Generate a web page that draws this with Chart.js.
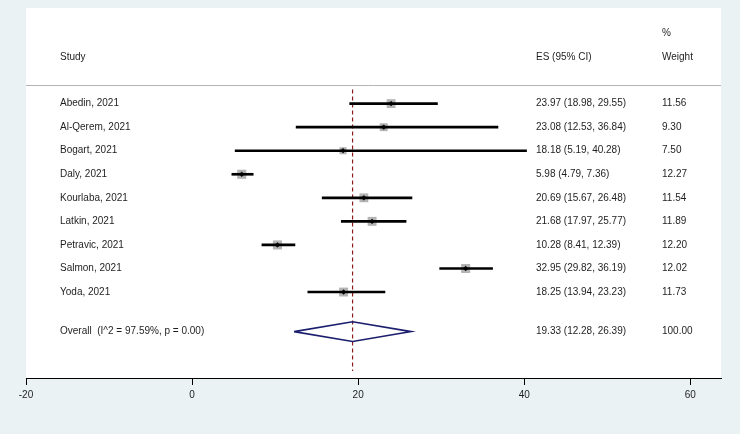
<!DOCTYPE html>
<html>
<head>
<meta charset="utf-8">
<script src="https://cdn.jsdelivr.net/npm/chart.js@4"></script>
<style>
  html, body { margin: 0; padding: 0; background: #eaf2f3; }
  #wrap { width: 740px; height: 434px; }
</style>
</head>
<body>
<div id="wrap"><canvas id="forest" width="740" height="434"></canvas></div>
<script>
// studies and their estimates (ES with 95% CI) and % weight
const studies = ['Abedin, 2021', 'Al-Qerem, 2021', 'Bogart, 2021', 'Daly, 2021', 'Kourlaba, 2021',
                 'Latkin, 2021', 'Petravic, 2021', 'Salmon, 2021', 'Yoda, 2021'];
const es      = [23.97, 23.08, 18.18, 5.98, 20.69, 21.68, 10.28, 32.95, 18.25];
const ciLow   = [18.98, 12.53, 5.19, 4.79, 15.67, 17.97, 8.41, 29.82, 13.94];
const ciHigh  = [29.55, 36.84, 40.28, 7.36, 26.48, 25.77, 12.39, 36.19, 23.23];
const weights = [11.56, 9.30, 7.50, 12.27, 11.54, 11.89, 12.20, 12.02, 11.73];

// pooled estimate
const overallES = 19.33;
const overallLow = 12.28;
const overallHigh = 26.39;
const overallWeight = 100.00;
const i2 = 97.59;
const pValue = 0.00;

const xTicks = [-20, 0, 20, 40, 60];

// row positions on the y scale (row index, overall sits a bit lower)
const rows = studies.map((s, i) => i);
const overallRow = 9.68;

const ctx = document.getElementById('forest').getContext('2d');
const font = '"Liberation Sans", Arial, sans-serif';

// diamond for the pooled result
const dh = 0.42;
const diamond = [
    { x: overallLow, y: overallRow },
    { x: overallES, y: overallRow - dh },
    { x: overallHigh, y: overallRow },
    { x: overallES, y: overallRow + dh },
    { x: overallLow, y: overallRow }
];

// background + table text
const tablePlugin = {
    id: 'table',
    beforeDraw(chart) {
        const c = chart.ctx;
        const a = chart.chartArea;
        c.save();
        c.fillStyle = '#eaf2f3';
        c.fillRect(0, 0, chart.width, chart.height);
        c.fillStyle = '#ffffff';
        c.fillRect(a.left, a.top, a.right - a.left, a.bottom - a.top);
        // header separator
        const ys = chart.scales.y;
        const sepY = Math.round(ys.getPixelForValue(-0.78)) + 0.5;
        c.strokeStyle = '#b4b4b4';
        c.lineWidth = 1;
        c.beginPath();
        c.moveTo(a.left, sepY);
        c.lineTo(a.right, sepY);
        c.stroke();
        c.restore();
    },
    afterDraw(chart) {
        const c = chart.ctx;
        const a = chart.chartArea;
        const ys = chart.scales.y;
        const colStudy = a.left + 34;
        const colES = a.left + 510;
        const colW = a.left + 636;
        c.save();
        c.font = '10px ' + font;
        c.fillStyle = '#1e1e1e';
        c.textBaseline = 'middle';
        c.textAlign = 'left';
        c.fillText('%', colW, ys.getPixelForValue(-3));
        c.fillText('Study', colStudy, ys.getPixelForValue(-1.98));
        c.fillText('ES (95% CI)', colES, ys.getPixelForValue(-1.98));
        c.fillText('Weight', colW, ys.getPixelForValue(-1.98));
        studies.forEach((s, i) => {
            const y = ys.getPixelForValue(rows[i]);
            c.fillText(s, colStudy, y);
            c.fillText(es[i].toFixed(2) + ' (' + ciLow[i].toFixed(2) + ', ' + ciHigh[i].toFixed(2) + ')', colES, y);
            c.fillText(weights[i].toFixed(2), colW, y);
        });
        const yo = ys.getPixelForValue(overallRow);
        c.fillText('Overall  (I^2 = ' + i2.toFixed(2) + '%, p = ' + pValue.toFixed(2) + ')', colStudy, yo);
        c.fillText(overallES.toFixed(2) + ' (' + overallLow.toFixed(2) + ', ' + overallHigh.toFixed(2) + ')', colES, yo);
        c.fillText(overallWeight.toFixed(2), colW, yo);
        c.restore();
    }
};

new Chart(ctx, {
    type: 'scatter',
    data: {
        datasets: [
            {
                // centre dots
                type: 'scatter',
                data: rows.map(i => ({ x: es[i], y: i })),
                pointStyle: 'rectRot',
                pointRadius: 2.4,
                backgroundColor: '#000',
                borderColor: '#000',
                borderWidth: 0.5,
                order: 0
            },
            {
                // confidence intervals
                type: 'bar',
                indexAxis: 'y',
                data: rows.map(i => ({ x: [ciLow[i], ciHigh[i]], y: i })),
                backgroundColor: '#000',
                borderWidth: 0,
                barThickness: 2,
                order: 1
            },
            {
                // weight boxes
                type: 'scatter',
                data: rows.map(i => ({ x: es[i], y: i })),
                pointStyle: 'rect',
                pointRadius: c2 => 2.6 * Math.sqrt(weights[c2.dataIndex] || 0) / Math.SQRT2,
                backgroundColor: '#b4b4b4',
                borderColor: '#b4b4b4',
                borderWidth: 0,
                order: 2
            },
            {
                // overall diamond
                type: 'line',
                data: diamond,
                borderColor: '#1b1f6e',
                borderWidth: 1.6,
                pointRadius: 0,
                fill: false,
                tension: 0,
                order: 3
            },
            {
                // line at overall estimate
                type: 'line',
                data: [{ x: overallES, y: -0.6 }, { x: overallES, y: 11.35 }],
                borderColor: '#8b1c1c',
                borderWidth: 1.2,
                borderDash: [4, 3],
                pointRadius: 0,
                fill: false,
                order: 4
            }
        ]
    },
    options: {
        responsive: false,
        animation: false,
        layout: { padding: { left: 26, right: 19, top: 8, bottom: 0 } },
        plugins: {
            legend: { display: false },
            tooltip: { enabled: false }
        },
        scales: {
            x: {
                type: 'linear',
                min: -20,
                max: 63.7,
                offset: false,
                afterBuildTicks: s => { s.ticks = xTicks.map(v => ({ value: v })); },
                afterFit: s => { s.height = 56; },
                grid: { drawOnChartArea: false, drawTicks: true, tickLength: 7, color: '#000', lineWidth: 1, offset: false },
                border: { display: true, color: '#000', width: 1 },
                ticks: { color: '#1e1e1e', font: { family: font, size: 10 }, padding: 4, maxRotation: 0 }
            },
            y: {
                type: 'linear',
                min: -4.06,
                max: 11.65,
                offset: false,
                reverse: true,
                display: false
            }
        }
    },
    plugins: [tablePlugin]
});
</script>
</body>
</html>
